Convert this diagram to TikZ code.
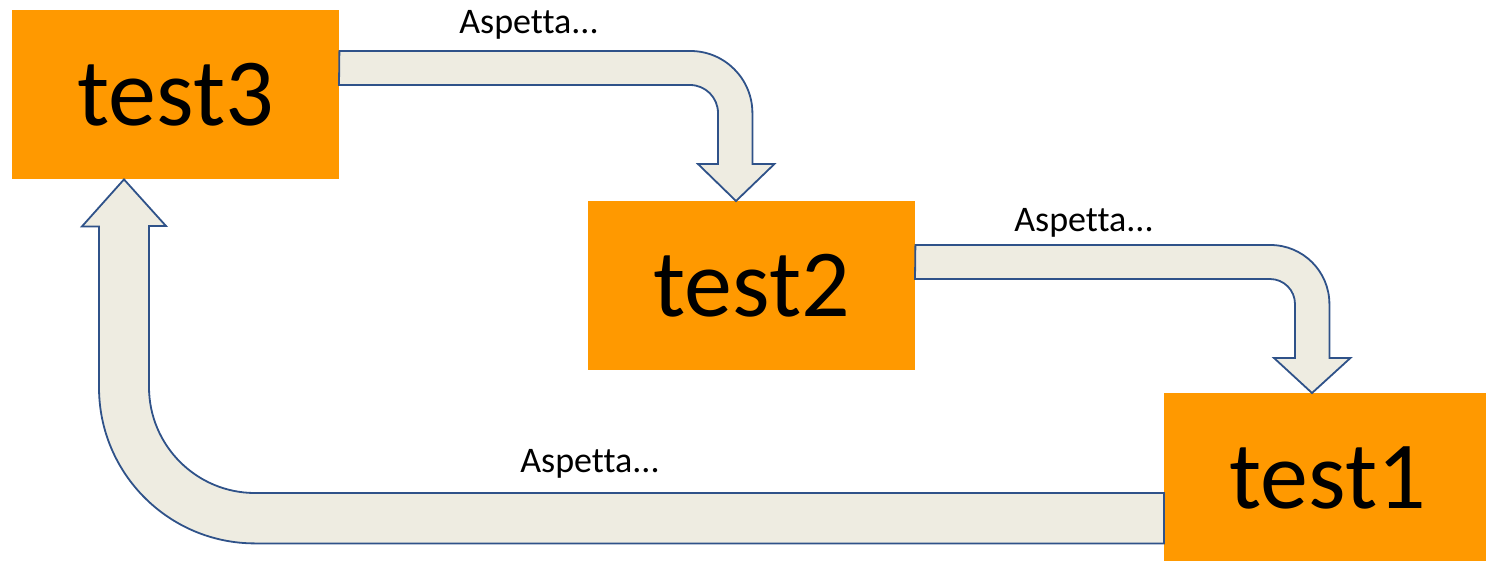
\documentclass[tikz,border=0pt]{standalone}
\usepackage{fontspec}
\setmainfont{Carlito}[Ligatures=NoCommon]
\usetikzlibrary{calc,positioning}
\definecolor{boxorange}{HTML}{FF9900}
\definecolor{arrowfill}{HTML}{EEECE1}
\definecolor{arrowline}{HTML}{2F5289}

\begin{document}
\begin{tikzpicture}[x=1pt,y=-1pt,
    testbox/.style={anchor=north west,fill=boxorange,inner sep=0pt,
      minimum width=327,minimum height=169,
      font=\fontsize{96}{100}\selectfont},
    waitlabel/.style={anchor=base,font=\fontsize{36}{40}\selectfont},
    bentarrow/.style={fill=arrowfill,draw=arrowline,line width=1.8pt,line join=miter}]
  \useasboundingbox (0,0) rectangle (1486,560);
  \clip (0,0) rectangle (1486,560);

  \node[testbox] (t3) at (12,10)    {test3};
  \node[testbox] (t2) at (588,201)  {test2};
  \node[testbox] (t1) at (1164,393) {test1};

  % test3 -> test2
  \draw[bentarrow] ($(t3.north east)+(0,41)$) -- ++(351,0)
    arc[start angle=-90,end angle=0,radius=62] -- ++(0,51) -- ++(22,0)
    -- ($(t2.north west)+(148,0)$) -- ++(-38,-37) -- ++(20,0) -- ++(0,-51)
    arc[start angle=0,end angle=-90,radius=28] -- ++(-351,0) -- cycle;

  % test2 -> test1
  \draw[bentarrow] ($(t2.north east)+(0,44)$) -- ++(355,0)
    arc[start angle=-90,end angle=0,radius=59] -- ++(0,54) -- ++(21,0)
    -- ($(t1.north west)+(148,0)$) -- ++(-38,-35) -- ++(21,0) -- ++(0,-54)
    arc[start angle=0,end angle=-90,radius=25] -- ++(-355,0) -- cycle;

  % test1 -> test3, back round the bottom
  \draw[bentarrow] ($(t1.north west)+(0,100)$) -- ++(-909,0)
    arc[start angle=90,end angle=180,radius=106] -- ++(0,-161) -- ++(17,0)
    -- ($(t3.south west)+(112,0)$) -- ++(-42,47) -- ++(17,0) -- ++(0,161)
    arc[start angle=180,end angle=90,radius=156] -- ++(909,0) -- cycle;

  \node[waitlabel] (w32) at (529,33)  {Aspetta...};
  \node[waitlabel] (w21) at (1084,231) {Aspetta...};
  \node[waitlabel] (w13) at (590,472) {Aspetta...};
\end{tikzpicture}
\end{document}
